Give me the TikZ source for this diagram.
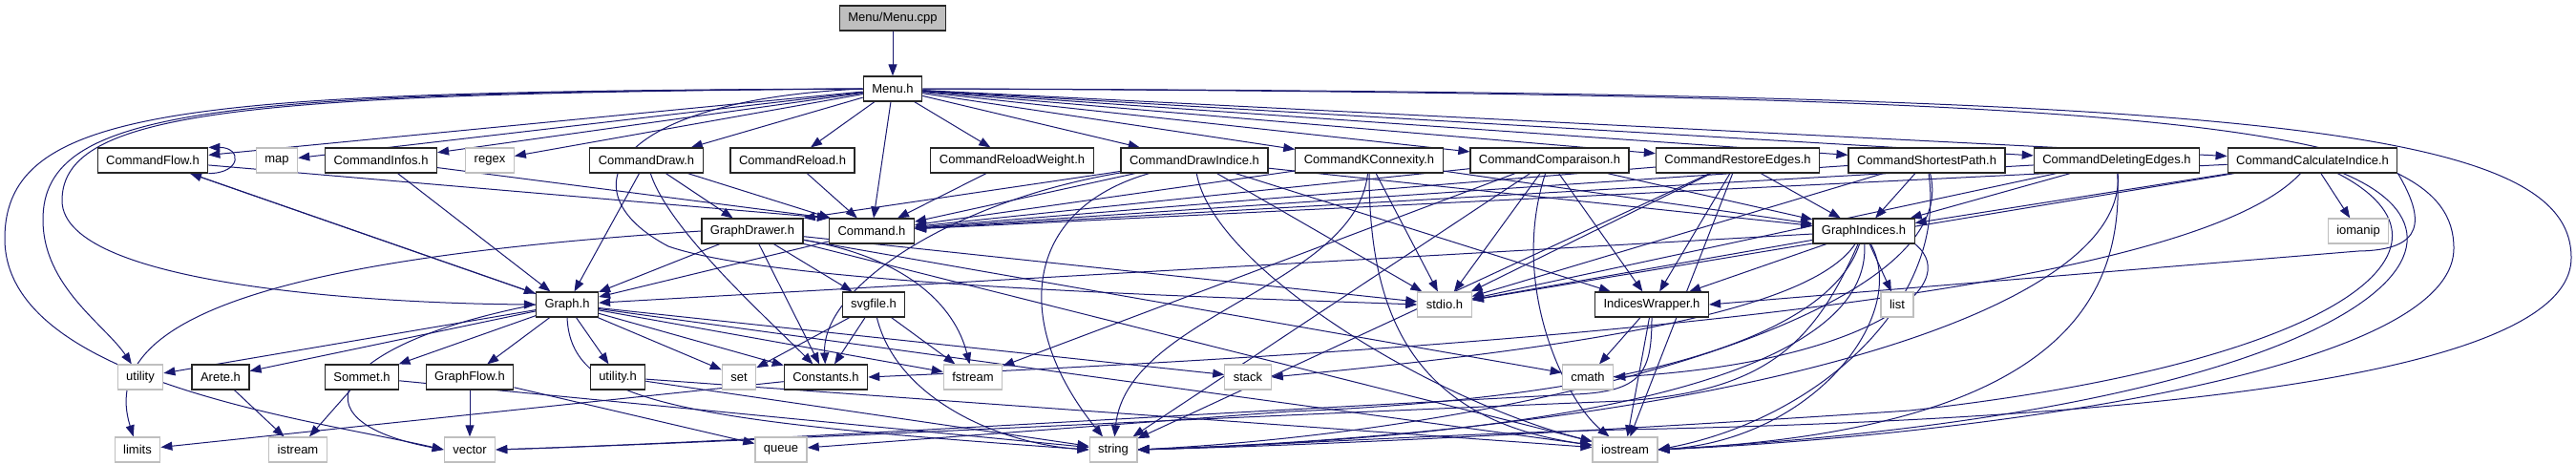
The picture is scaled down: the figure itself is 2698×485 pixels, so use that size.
\documentclass[tikz,border=0pt]{standalone}
\usepackage{fontspec}
\setmainfont{Liberation Sans}
\usepackage{tikz}
\usetikzlibrary{arrows.meta,backgrounds}
\definecolor{depblue}{RGB}{25, 25,112}
\definecolor{sysgray}{RGB}{191,191,191}
\tikzset{
  hdr/.style={draw=black!85,fill=white,line width=1.2pt,
              minimum height=26pt,inner xsep=9pt,inner ysep=2pt,
              font=\fontsize{13}{15}\selectfont},
  sys/.style={hdr,draw=sysgray},
  src/.style={hdr,fill=sysgray},
  dep/.style={-{Triangle[length=12pt,width=9pt]},color=depblue,line width=1pt},
}

\begin{document}
\begin{tikzpicture}[x=1pt,y=-1pt]
  \useasboundingbox (0,0) rectangle (2698,485);
  % top
  \node[src](cpp)     at (935,19)  {Menu/Menu.cpp};
  \node[hdr](menu)    at (935,93)  {Menu.h};
  % commands
  \node[hdr](cflow)   at (160,168) {CommandFlow.h};
  \node[sys](map)     at (290,168) {map};
  \node[hdr](cinfos)  at (399,168) {CommandInfos.h};
  \node[sys](regex)   at (513,168) {regex};
  \node[hdr](cdraw)   at (677,168) {CommandDraw.h};
  \node[hdr](creload) at (830,168) {CommandReload.h};
  \node[hdr](crw)     at (1060,168){CommandReloadWeight.h};
  \node[hdr](cdi)     at (1251,168){CommandDrawIndice.h};
  \node[hdr](ckc)     at (1434,168){CommandKConnexity.h};
  \node[hdr](ccomp)   at (1623,168){CommandComparaison.h};
  \node[hdr](crest)   at (1820,168){CommandRestoreEdges.h};
  \node[hdr](csp)     at (2018,168){CommandShortestPath.h};
  \node[hdr](cdel)    at (2217,168){CommandDeletingEdges.h};
  \node[hdr](ccalc)   at (2422,168){CommandCalculateIndice.h};
  % second row
  \node[hdr](gdrawer) at (788,242) {GraphDrawer.h};
  \node[hdr](command) at (913,242) {Command.h};
  \node[hdr](gind)    at (1952,242){GraphIndices.h};
  \node[sys](iomanip) at (2470,242){iomanip};
  % third row
  \node[hdr](graph)   at (594,319) {Graph.h};
  \node[hdr](svg)     at (915,319) {svgfile.h};
  \node[sys](stdio)   at (1513,319){stdio.h};
  \node[hdr](iw)      at (1730,319){IndicesWrapper.h};
  \node[sys](list)    at (1987,319){list};
  % fourth row
  \node[sys](utility) at (147,395) {utility};
  \node[hdr](arete)   at (231,395) {Arete.h};
  \node[hdr](sommet)  at (379,395) {Sommet.h};
  \node[hdr](gflow)   at (492,395) {GraphFlow.h};
  \node[hdr](utilh)   at (647,395) {utility.h};
  \node[sys](set)     at (774,395) {set};
  \node[hdr](constants) at (865,395) {Constants.h};
  \node[sys](fstream) at (1019,395){fstream};
  \node[sys](stack)   at (1307,395){stack};
  \node[sys](cmath)   at (1663,395){cmath};
  % bottom row
  \node[sys](limits)  at (144,471) {limits};
  \node[sys](istream) at (312,471) {istream};
  \node[sys](vector)  at (492,471) {vector};
  \node[sys](queue)   at (818,471) {queue};
  \node[sys](string)  at (1166,471){string};
  \node[sys](iostream) at (1702,471){iostream};

  \begin{scope}[on background layer]
  \draw[dep](cpp) -- (menu);
  % Menu.h
  \draw[dep](menu) -- (cflow);
  \draw[dep](menu) -- (map);
  \draw[dep](menu) -- (cinfos);
  \draw[dep](menu) -- (regex);
  \draw[dep](menu) -- (cdraw);
  \draw[dep](menu) -- (creload);
  \draw[dep](menu) -- (command);
  \draw[dep](menu) -- (crw);
  \draw[dep](menu) -- (cdi);
  \draw[dep](menu) -- (ckc);
  \draw[dep](menu) -- (ccomp);
  \draw[dep](menu) -- (crest);
  \draw[dep](menu) -- (csp);
  \draw[dep](menu) -- (cdel);
  \draw[dep](menu) -- (ccalc);
  \draw[dep](menu.west) .. controls (200,96) and (5,110) .. (5,250) .. controls (5,400) and (330,440) .. (vector.west);
  \draw[dep](menu.west) .. controls (230,97) and (45,112) .. (45,230) .. controls (45,300) and (110,340) .. (utility);
  \draw[dep](menu.west) .. controls (260,98) and (65,115) .. (65,210) .. controls (65,300) and (400,318) .. (graph.west);
  \draw[dep](menu.west) .. controls (640,105) and (590,200) .. (700,258) .. controls (820,300) and (1300,312) .. (stdio.west);
  \draw[dep](menu.east) .. controls (2350,96) and (2693,130) .. (2693,270) .. controls (2693,400) and (2200,440) .. (1700,450) .. controls (1500,455) and (1300,468) .. (string.east);
  \draw[dep](menu.east) .. controls (2300,98) and (2570,130) .. (2570,260) .. controls (2570,400) and (2000,460) .. (iostream.east);
  % CommandFlow.h
  \draw[dep](cflow.south east) .. controls +(35,0) and +(35,0) .. (cflow.north east);
  \draw[dep](cflow) -- (command.north west);
  \draw[dep](cflow) -- (graph);
  \draw[dep](graph) -- (cflow);
  % CommandInfos.h
  \draw[dep](cinfos) -- (command.north west);
  \draw[dep](cinfos) -- (graph);
  % CommandDraw.h
  \draw[dep](cdraw) -- (graph);
  \draw[dep](cdraw) -- (gdrawer);
  \draw[dep](cdraw) -- (command);
  \draw[dep](cdraw) .. controls (700,240) and (800,330) .. (constants);
  % CommandReload.h, CommandReloadWeight.h
  \draw[dep](creload) -- (command);
  \draw[dep](crw) -- (command);
  % CommandDrawIndice.h
  \draw[dep](cdi) -- (command);
  \draw[dep](cdi) -- (gdrawer.north east);
  \draw[dep](cdi) .. controls (1000,210) and (860,300) .. (constants);
  \draw[dep](cdi) .. controls (1070,220) and (1060,340) .. (string);
  \draw[dep](cdi) -- (stdio);
  \draw[dep](cdi) -- (iw);
  \draw[dep](cdi) -- (gind);
  \draw[dep](cdi) .. controls (1270,280) and (1500,420) .. (iostream);
  % CommandKConnexity.h
  \draw[dep](ckc) -- (command);
  \draw[dep](ckc) -- (gind);
  \draw[dep](ckc) -- (stdio);
  \draw[dep](ckc) .. controls (1420,300) and (1180,330) .. (string);
  \draw[dep](ckc) .. controls (1434,330) and (1480,440) .. (iostream);
  % CommandComparaison.h
  \draw[dep](ccomp) -- (command);
  \draw[dep](ccomp) -- (gind);
  \draw[dep](ccomp) -- (iw);
  \draw[dep](ccomp) -- (stdio);
  \draw[dep](ccomp) -- (fstream);
  \draw[dep](ccomp) -- (string);
  \draw[dep](ccomp) .. controls (1580,300) and (1640,420) .. (iostream);
  % CommandRestoreEdges.h
  \draw[dep](crest) -- (command);
  \draw[dep](crest) -- (gind);
  \draw[dep](crest) -- (iw);
  \draw[dep](crest) -- (stdio);
  \draw[dep](crest) -- (string);
  \draw[dep](crest) -- (iostream);
  % CommandShortestPath.h
  \draw[dep](csp) -- (command);
  \draw[dep](csp) -- (gind);
  \draw[dep](csp) -- (stdio);
  \draw[dep](csp) .. controls (2060,330) and (1600,450) .. (string.east);
  \draw[dep](csp) .. controls (2040,320) and (1900,440) .. (iostream.east);
  % CommandDeletingEdges.h
  \draw[dep](cdel) -- (command);
  \draw[dep](cdel) -- (gind);
  \draw[dep](cdel) -- (stdio);
  \draw[dep](cdel) .. controls (2230,330) and (1800,450) .. (string.east);
  \draw[dep](cdel) .. controls (2225,320) and (2150,450) .. (iostream.east);
  % CommandCalculateIndice.h
  \draw[dep](ccalc) -- (command);
  \draw[dep](ccalc) -- (gind);
  \draw[dep](ccalc) -- (iomanip);
  \draw[dep](ccalc) -- (stdio);
  \draw[dep](ccalc) .. controls (2300,300) and (1700,360) .. (constants.east);
  \draw[dep](ccalc.south east) .. controls (2540,230) and (2540,262) .. (2470,263) -- (iw.east);
  \draw[dep](ccalc) .. controls (2600,260) and (2450,380) .. (2000,430) .. controls (1700,450) and (1400,466) .. (string.east);
  \draw[dep](ccalc) .. controls (2640,260) and (2450,430) .. (iostream.east);
  % Command.h
  \draw[dep](command) -- (graph);
  % GraphDrawer.h
  \draw[dep](gdrawer) -- (graph);
  \draw[dep](gdrawer) -- (svg);
  \draw[dep](gdrawer) -- (constants);
  \draw[dep](gdrawer) .. controls (950,270) and (1000,320) .. (fstream);
  \draw[dep](gdrawer.west) .. controls (300,270) and (100,330) .. (limits);
  \draw[dep](gdrawer) -- (stdio);
  \draw[dep](gdrawer) -- (cmath);
  \draw[dep](gdrawer) -- (iostream);
  % GraphIndices.h
  \draw[dep](gind) -- (graph);
  \draw[dep](gind) -- (stdio);
  \draw[dep](gind) -- (iw);
  \draw[dep](gind) -- (list);
  \draw[dep](gind) .. controls (1900,320) and (1700,360) .. (stack.east);
  \draw[dep](gind.south east) .. controls (2060,300) and (1950,380) .. (cmath.east);
  \draw[dep](gind) .. controls (1900,360) and (1850,410) .. (1700,420) .. controls (1200,440) and (800,462) .. (vector.east);
  \draw[dep](gind) .. controls (1960,380) and (1700,455) .. (string.east);
  \draw[dep](gind) .. controls (2000,330) and (1900,460) .. (iostream.east);
  \draw[dep](gind) .. controls (1900,400) and (1500,425) .. (1350,431) -- (queue);
  % IndicesWrapper.h
  \draw[dep](iw) -- (cmath);
  \draw[dep](iw) .. controls (1730,390) and (1720,410) .. (1650,413) .. controls (1200,436) and (800,462) .. (vector.east);
  \draw[dep](iw) -- (iostream);
  % Graph.h
  \draw[dep](graph) -- (utility);
  \draw[dep](graph) -- (arete);
  \draw[dep](graph) -- (sommet);
  \draw[dep](graph) -- (gflow);
  \draw[dep](graph) -- (utilh);
  \draw[dep](graph.west) .. controls (350,360) and (300,440) .. (vector.west);
  \draw[dep](graph) -- (set);
  \draw[dep](graph) -- (constants);
  \draw[dep](graph) -- (fstream);
  \draw[dep](graph) -- (stack);
  \draw[dep](graph.south) .. controls (598,420) and (700,440) .. (string.west);
  \draw[dep](graph) -- (iostream);
  % svgfile.h
  \draw[dep](svg) -- (set);
  \draw[dep](svg) -- (constants);
  \draw[dep](svg) -- (fstream);
  \draw[dep](svg) .. controls (940,420) and (1050,465) .. (string.west);
  % leaves
  \draw[dep](arete) -- (istream);
  \draw[dep](sommet) -- (istream);
  \draw[dep](sommet) -- (string);
  \draw[dep](gflow) -- (vector);
  \draw[dep](gflow) -- (queue);
  \draw[dep](utilh) -- (string);
  \draw[dep](utilh) -- (iostream);
  \draw[dep](constants) -- (limits);
  \end{scope}
\end{tikzpicture}
\end{document}
